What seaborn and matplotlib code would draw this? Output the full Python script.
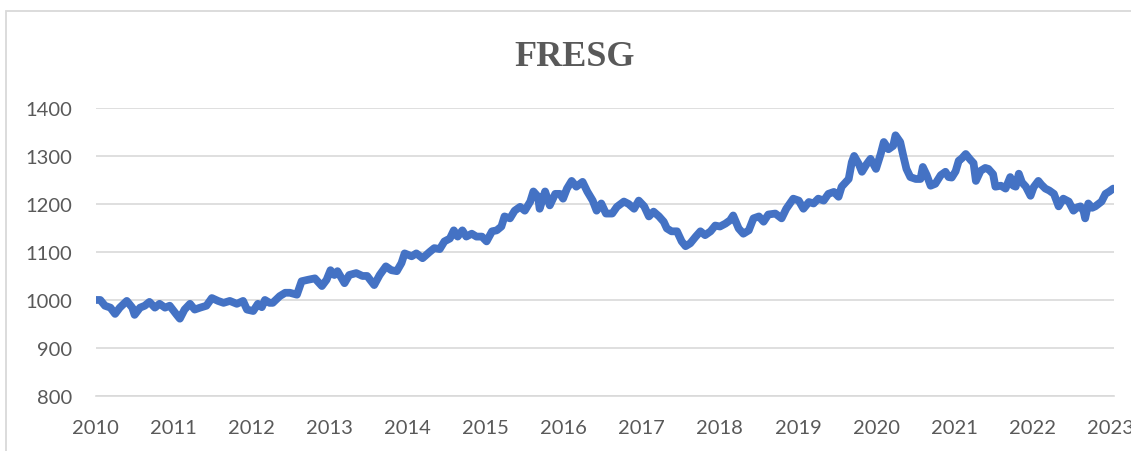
import matplotlib
matplotlib.use("Agg")
import matplotlib.pyplot as plt
import seaborn as sns
import pandas as pd
from matplotlib.patches import Rectangle

# значения (дробный год -> значение индекса)
years = [
    2010.00, 2010.06, 2010.12, 2010.19, 2010.25, 2010.31, 2010.40, 2010.47, 2010.50, 2010.57,
    2010.63, 2010.69, 2010.76, 2010.82, 2010.89, 2010.95, 2011.04, 2011.08, 2011.14, 2011.21,
    2011.27, 2011.34, 2011.42, 2011.49, 2011.57, 2011.64, 2011.72, 2011.81, 2011.89, 2011.94,
    2012.02, 2012.08, 2012.13, 2012.17, 2012.23, 2012.27, 2012.36, 2012.43, 2012.49, 2012.58,
    2012.64, 2012.72, 2012.81, 2012.90, 2012.96, 2013.01, 2013.06, 2013.10, 2013.19, 2013.25,
    2013.34, 2013.42, 2013.48, 2013.57, 2013.64, 2013.72, 2013.79, 2013.86, 2013.92, 2013.96,
    2014.05, 2014.11, 2014.19, 2014.28, 2014.34, 2014.41, 2014.47, 2014.54, 2014.59, 2014.64,
    2014.70, 2014.75, 2014.82, 2014.88, 2014.95, 2015.01, 2015.08, 2015.14, 2015.20, 2015.24,
    2015.31, 2015.37, 2015.44, 2015.50, 2015.57, 2015.61, 2015.67, 2015.69, 2015.76, 2015.82,
    2015.89, 2015.95, 2015.99, 2016.04, 2016.10, 2016.16, 2016.24, 2016.30, 2016.37, 2016.42,
    2016.48, 2016.54, 2016.62, 2016.68, 2016.77, 2016.83, 2016.90, 2016.96, 2017.03, 2017.09,
    2017.15, 2017.22, 2017.28, 2017.32, 2017.38, 2017.45, 2017.51, 2017.56, 2017.62, 2017.69,
    2017.75, 2017.81, 2017.88, 2017.94, 2018.00, 2018.07, 2018.13, 2018.17, 2018.24, 2018.30,
    2018.37, 2018.43, 2018.50, 2018.56, 2018.62, 2018.71, 2018.79, 2018.85, 2018.94, 2019.01,
    2019.07, 2019.14, 2019.20, 2019.26, 2019.33, 2019.39, 2019.46, 2019.52, 2019.56, 2019.65,
    2019.69, 2019.72, 2019.78, 2019.82, 2019.88, 2019.93, 2020.00, 2020.06, 2020.10, 2020.16,
    2020.22, 2020.25, 2020.31, 2020.35, 2020.39, 2020.44, 2020.51, 2020.57, 2020.60, 2020.65,
    2020.70, 2020.76, 2020.83, 2020.89, 2020.93, 2020.97, 2021.02, 2021.06, 2021.10, 2021.15,
    2021.21, 2021.25, 2021.28, 2021.34, 2021.40, 2021.44, 2021.50, 2021.53, 2021.60, 2021.66,
    2021.72, 2021.76, 2021.79, 2021.83, 2021.87, 2021.92, 2021.98, 2022.02, 2022.08, 2022.12,
    2022.17, 2022.22, 2022.28, 2022.34, 2022.40, 2022.47, 2022.53, 2022.58, 2022.62, 2022.66,
    2022.68, 2022.72, 2022.77, 2022.81, 2022.85, 2022.89, 2022.94, 2022.99, 2023.04,
]
values = [
    1000, 1000, 988, 984, 971, 984, 998, 984, 969, 984,
    988, 996, 984, 992, 984, 988, 969, 961, 980, 992,
    980, 984, 988, 1004, 998, 994, 998, 992, 998, 980,
    977, 992, 985, 1000, 994, 994, 1008, 1015, 1015, 1011,
    1039, 1042, 1045, 1029, 1042, 1062, 1052, 1060, 1035, 1052,
    1056, 1050, 1050, 1031, 1052, 1070, 1062, 1060, 1077, 1097,
    1091, 1097, 1087, 1100, 1108, 1106, 1122, 1128, 1145, 1132,
    1145, 1132, 1138, 1132, 1132, 1122, 1143, 1145, 1153, 1174,
    1170, 1186, 1194, 1186, 1205, 1226, 1215, 1190, 1226, 1197,
    1221, 1221, 1211, 1232, 1248, 1236, 1246, 1226, 1207, 1186,
    1201, 1180, 1180, 1194, 1205, 1200, 1190, 1207, 1195, 1174,
    1184, 1174, 1163, 1149, 1143, 1143, 1122, 1112, 1118, 1132,
    1143, 1135, 1143, 1155, 1153, 1159, 1166, 1176, 1149, 1138,
    1145, 1170, 1174, 1163, 1178, 1180, 1170, 1190, 1211, 1207,
    1190, 1204, 1201, 1211, 1207, 1221, 1225, 1215, 1236, 1252,
    1287, 1300, 1283, 1267, 1283, 1294, 1273, 1304, 1329, 1314,
    1321, 1343, 1329, 1300, 1273, 1256, 1252, 1252, 1277, 1260,
    1238, 1242, 1260, 1267, 1256, 1255, 1268, 1290, 1295, 1304,
    1292, 1285, 1248, 1269, 1275, 1273, 1262, 1236, 1238, 1232,
    1256, 1238, 1236, 1263, 1245, 1236, 1217, 1235, 1248, 1240,
    1232, 1228, 1221, 1195, 1211, 1205, 1186, 1193, 1195, 1185,
    1170, 1201, 1192, 1195, 1200, 1205, 1221, 1226, 1232,
]
year_ticks = list(range(2010, 2024))
value_ticks = [800, 900, 1000, 1100, 1200, 1300, 1400]

df = pd.DataFrame({"year": years, "value": values})

sns.set_style("white")
plt.rcParams['font.family'] = ['Lato', 'DejaVu Sans']

fig = plt.figure(figsize=(11.31, 4.52), dpi=100)
ax = fig.add_axes([0.0845, 0.1217, 0.9005, 0.6373])

# рамка вокруг всей диаграммы, как в Excel
fig.patches.append(Rectangle((6 / 1131, -0.5), 2, 1.5 - 12 / 452, transform=fig.transFigure,
                             fill=False, edgecolor='#d9d9d9', linewidth=1.3))

sns.lineplot(data=df, x="year", y="value", ax=ax, color='#4472C4', linewidth=5.6,
             solid_capstyle='round', solid_joinstyle='round')

ax.set_xlim(2010, 2023.05)
ax.set_ylim(800, 1400)
ax.set_xticks(year_ticks)
ax.set_yticks(value_ticks)
ax.set_xlabel('')
ax.set_ylabel('')

ax.grid(axis='y', color='#d9d9d9', linewidth=1.2)
ax.set_axisbelow(True)
for s in ['top', 'right', 'left']:
    ax.spines[s].set_visible(False)
ax.spines['bottom'].set_color('#d9d9d9')
ax.spines['bottom'].set_linewidth(1.2)

ax.tick_params(axis='x', direction='out', length=5.5, width=1.2, color='#d9d9d9',
               labelsize=14.5, labelcolor='#595959', pad=11)
ax.tick_params(axis='y', length=0, labelsize=14.5, labelcolor='#595959', pad=17)

fig.text(0.508, 0.873, 'FRESG', ha='center', va='center', fontsize=26, fontweight='bold',
         color='#595959', family=['Liberation Serif', 'DejaVu Serif'])

fig.savefig('out.png', dpi=100)
